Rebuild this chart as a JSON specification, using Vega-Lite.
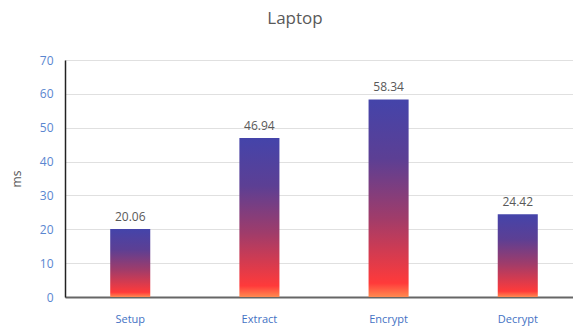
{
  "$schema": "https://vega.github.io/schema/vega-lite/v6.json",
  "autosize": {"type": "none"},
  "padding": {"left": 65, "top": 60, "right": 0, "bottom": 32},
  "width": 518,
  "height": 237,
  "background": "white",
  "title": {"text": "Laptop", "anchor": "middle", "dx": -29, "offset": 26, "fontSize": 17, "font": "Open Sans", "fontWeight": "normal", "color": "#595959"},
  "data": {"values": [
    {"op": "Setup", "ms": 20.06},
    {"op": "Extract", "ms": 46.94},
    {"op": "Encrypt", "ms": 58.34},
    {"op": "Decrypt", "ms": 24.42}
  ]},
  "encoding": {
    "x": {"field": "op", "type": "nominal", "sort": null,
      "scale": {"paddingInner": 0.69, "paddingOuter": 0.35},
      "axis": {"title": null, "labelAngle": 0, "labelColor": "#4472C4", "labelFont": "Open Sans", "labelFontSize": 11, "ticks": false, "labelPadding": 16, "domainColor": "#666666", "domainWidth": 2}},
    "y": {"field": "ms", "type": "quantitative",
      "scale": {"domain": [0, 70], "nice": false},
      "axis": {"title": "ms", "titleColor": "#595959", "titleFont": "Open Sans", "titleFontSize": 12, "titleFontWeight": "normal", "titlePadding": 16, "values": [0,10,20,30,40,50,60,70], "labelOverlap": false, "labelColor": "#5a86d0", "labelFont": "Open Sans", "labelFontSize": 12, "ticks": false, "labelPadding": 12, "domainColor": "#222222", "domainWidth": 1.5, "gridColor": "#e0e0e0"}}
  },
  "layer": [
    {"mark": {"type": "bar", "color": {"gradient": "linear", "x1": 0, "y1": 0, "x2": 0, "y2": 1, "stops": [
      {"offset": 0, "color": "#4444aa"},
      {"offset": 0.3, "color": "#5c3f94"},
      {"offset": 0.6, "color": "#a03c6a"},
      {"offset": 0.93, "color": "#ff3a3a"},
      {"offset": 1, "color": "#ff8a50"}
    ]}}},
    {"mark": {"type": "text", "dy": -12, "font": "Open Sans", "fontSize": 12, "color": "#595959"},
      "encoding": {"text": {"field": "ms", "type": "quantitative", "format": ".2f"}}}
  ]
}
